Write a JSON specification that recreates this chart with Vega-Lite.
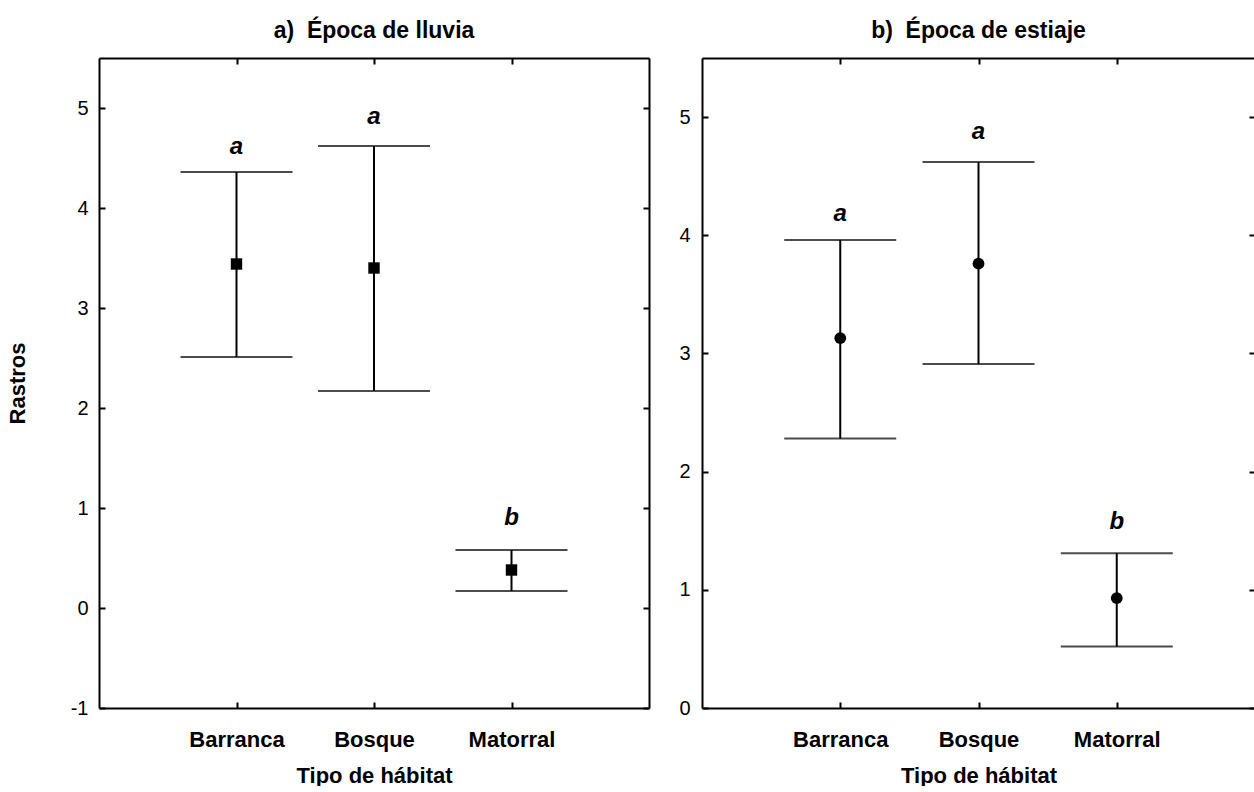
{
  "$schema": "https://vega.github.io/schema/vega-lite/v6.json",
  "padding": {"left": 6, "top": 20, "right": 0, "bottom": 0},
  "background": "white",
  "config": {
    "font": "Liberation Sans",
    "view": {"stroke": null},
    "axis": {"domainColor": "black", "domainWidth": 2, "tickColor": "black", "tickWidth": 2, "labelColor": "black", "titleColor": "black", "grid": false, "labelFont": "Liberation Sans", "titleFont": "Liberation Sans"},
    "title": {"font": "Liberation Sans", "fontSize": 23, "fontWeight": "bold", "color": "black", "offset": 14}
  },
  "datasets": {
    "rastros": [
      {"season": "lluvia", "habitat": "Barranca", "mean": 3.44, "lower": 2.51, "upper": 4.36, "group": "a", "labelpos": 4.61},
      {"season": "lluvia", "habitat": "Bosque", "mean": 3.40, "lower": 2.17, "upper": 4.62, "group": "a", "labelpos": 4.91},
      {"season": "lluvia", "habitat": "Matorral", "mean": 0.38, "lower": 0.17, "upper": 0.58, "group": "b", "labelpos": 0.90},
      {"season": "estiaje", "habitat": "Barranca", "mean": 3.13, "lower": 2.28, "upper": 3.96, "group": "a", "labelpos": 4.18},
      {"season": "estiaje", "habitat": "Bosque", "mean": 3.76, "lower": 2.91, "upper": 4.62, "group": "a", "labelpos": 4.87},
      {"season": "estiaje", "habitat": "Matorral", "mean": 0.93, "lower": 0.52, "upper": 1.31, "group": "b", "labelpos": 1.57}
    ]
  },
  "spacing": 28,
  "hconcat": [
    {
      "width": 550,
      "height": 650,
      "title": {"text": "a)\u00a0 Época de lluvia"},
      "data": {"name": "rastros"},
      "transform": [{"filter": "datum.season === 'lluvia'"}],
      "layer": [
        {
          "mark": {"type": "rule", "color": "black", "strokeWidth": 2},
          "encoding": {
            "x": {"field": "habitat", "type": "nominal", "sort": ["Barranca", "Bosque", "Matorral"], "scale": {"type": "point", "padding": 1},
              "axis": {"orient": "bottom", "title": "Tipo de hábitat", "labelAngle": 0, "labelFontSize": 22, "labelFontWeight": "bold", "labelPadding": 27, "titleFontSize": 22, "titleFontWeight": "bold", "titlePadding": 15, "tickSize": -6}},
            "y": {"field": "lower", "type": "quantitative", "scale": {"domain": [-1, 5.5], "nice": false, "zero": false},
              "axis": {"orient": "left", "title": "Rastros", "values": [-1, 0, 1, 2, 3, 4, 5], "labelExpr": "replace(datum.label, '−', '-')", "labelFontSize": 20, "labelPadding": 17, "tickSize": -6, "titleFontSize": 22, "titleFontWeight": "bold", "titlePadding": 41}},
            "y2": {"field": "upper"}
          }
        },
        {
          "mark": {"type": "tick", "color": "black", "size": 112, "thickness": 2},
          "encoding": {
            "x": {"field": "habitat", "type": "nominal", "sort": ["Barranca", "Bosque", "Matorral"], "axis": {"orient": "top", "labels": false, "title": null, "tickSize": -6}},
            "y": {"field": "upper", "type": "quantitative", "axis": {"orient": "right", "labels": false, "title": null, "values": [-1, 0, 1, 2, 3, 4, 5], "tickSize": -6}}
          }
        },
        {
          "mark": {"type": "tick", "color": "black", "size": 112, "thickness": 2},
          "encoding": {
            "x": {"field": "habitat", "type": "nominal", "sort": ["Barranca", "Bosque", "Matorral"], "axis": null},
            "y": {"field": "lower", "type": "quantitative", "axis": null}
          }
        },
        {
          "mark": {"type": "square", "color": "black", "filled": true, "opacity": 1, "size": 130},
          "encoding": {
            "x": {"field": "habitat", "type": "nominal", "sort": ["Barranca", "Bosque", "Matorral"], "axis": null},
            "y": {"field": "mean", "type": "quantitative", "axis": null}
          }
        },
        {
          "mark": {"type": "text", "color": "black", "font": "Liberation Sans", "fontSize": 24, "fontStyle": "italic", "fontWeight": "bold", "baseline": "middle"},
          "encoding": {
            "x": {"field": "habitat", "type": "nominal", "sort": ["Barranca", "Bosque", "Matorral"], "axis": null},
            "y": {"field": "labelpos", "type": "quantitative", "axis": null},
            "text": {"field": "group"}
          }
        }
      ],
      "resolve": {"axis": {"x": "independent", "y": "independent"}}
    },
    {
      "width": 553,
      "height": 650,
      "title": {"text": "b)\u00a0 Época de estiaje"},
      "data": {"name": "rastros"},
      "transform": [{"filter": "datum.season === 'estiaje'"}],
      "layer": [
        {
          "mark": {"type": "rule", "color": "black", "strokeWidth": 2},
          "encoding": {
            "x": {"field": "habitat", "type": "nominal", "sort": ["Barranca", "Bosque", "Matorral"], "scale": {"type": "point", "padding": 1},
              "axis": {"orient": "bottom", "title": "Tipo de hábitat", "labelAngle": 0, "labelFontSize": 22, "labelFontWeight": "bold", "labelPadding": 27, "titleFontSize": 22, "titleFontWeight": "bold", "titlePadding": 15, "tickSize": -6}},
            "y": {"field": "lower", "type": "quantitative", "scale": {"domain": [0, 5.5], "nice": false, "zero": false},
              "axis": {"orient": "left", "title": null, "values": [0, 1, 2, 3, 4, 5], "labelFontSize": 20, "labelPadding": 18, "tickSize": -6}},
            "y2": {"field": "upper"}
          }
        },
        {
          "mark": {"type": "tick", "color": "black", "size": 112, "thickness": 2},
          "encoding": {
            "x": {"field": "habitat", "type": "nominal", "sort": ["Barranca", "Bosque", "Matorral"], "axis": {"orient": "top", "labels": false, "title": null, "tickSize": -6}},
            "y": {"field": "upper", "type": "quantitative", "axis": {"orient": "right", "labels": false, "title": null, "values": [0, 1, 2, 3, 4, 5], "tickSize": -6}}
          }
        },
        {
          "mark": {"type": "tick", "color": "black", "size": 112, "thickness": 2},
          "encoding": {
            "x": {"field": "habitat", "type": "nominal", "sort": ["Barranca", "Bosque", "Matorral"], "axis": null},
            "y": {"field": "lower", "type": "quantitative", "axis": null}
          }
        },
        {
          "mark": {"type": "circle", "color": "black", "opacity": 1, "size": 140},
          "encoding": {
            "x": {"field": "habitat", "type": "nominal", "sort": ["Barranca", "Bosque", "Matorral"], "axis": null},
            "y": {"field": "mean", "type": "quantitative", "axis": null}
          }
        },
        {
          "mark": {"type": "text", "color": "black", "font": "Liberation Sans", "fontSize": 24, "fontStyle": "italic", "fontWeight": "bold", "baseline": "middle"},
          "encoding": {
            "x": {"field": "habitat", "type": "nominal", "sort": ["Barranca", "Bosque", "Matorral"], "axis": null},
            "y": {"field": "labelpos", "type": "quantitative", "axis": null},
            "text": {"field": "group"}
          }
        }
      ],
      "resolve": {"axis": {"x": "independent", "y": "independent"}}
    }
  ]
}
